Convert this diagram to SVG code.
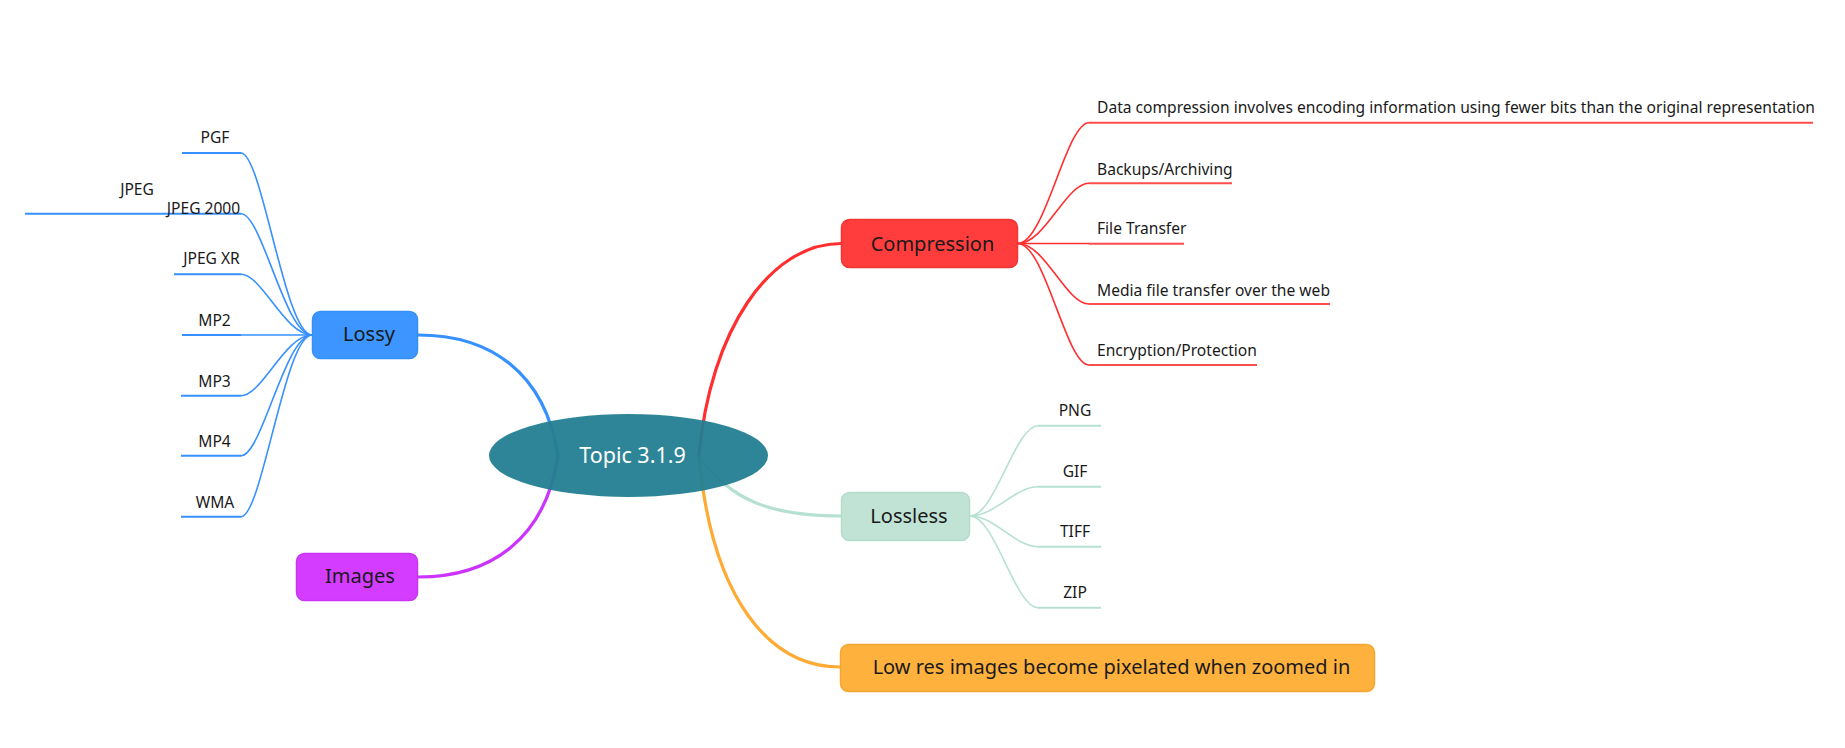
<svg xmlns="http://www.w3.org/2000/svg" width="1845" height="748" viewBox="0 0 1845 748">
<style>
text{font-family:"Noto Sans","Open Sans",sans-serif;fill:#1a1a1a}
.main{font-size:20px;text-anchor:middle}
.sub{font-size:15.6px}
.mid{text-anchor:middle}
.topic{font-size:21.5px;fill:#ffffff;text-anchor:middle}
.c{fill:none}
.blue{stroke:#3790ff}
.red{stroke:#ff2f2f}
.green{stroke:#b6e1d2}
.bw{stroke-width:3.2}
.cw{stroke-width:1.6}
.uw{stroke-width:2}
</style>
<rect width="1845" height="748" fill="#ffffff"/>
<g id="connectors">
  <path class="c blue bw" d="M558,456 C545,372 490,335 418,335"/>
  <path class="c bw" stroke="#cc33ff" d="M558,456 C545,540 490,577 418,577"/>
  <path class="c red bw" d="M699,456 C710,330 770,243.5 841,243.5"/>
  <path class="c green bw" d="M699,456 C730,500 770,516 841,516"/>
  <path class="c bw" stroke="#ffaa33" d="M699,456 C712,600 770,667 840,667"/>
  <!-- lossy children -->
  <path class="c blue cw" d="M312,335 C285,335 262,153 241,153"/>
  <path class="c blue cw" d="M312,335 C285,335 262,213.7 241,213.7"/>
  <path class="c blue cw" d="M312,335 C285,335 262,274.3 241,274.3"/>
  <path class="c blue cw" d="M312,335 L241,335"/>
  <path class="c blue cw" d="M312,335 C285,335 262,395.7 241,395.7"/>
  <path class="c blue cw" d="M312,335 C285,335 262,455.7 241,455.7"/>
  <path class="c blue cw" d="M312,335 C285,335 262,516.7 241,516.7"/>
  <g class="c blue uw">
    <line x1="182" y1="153" x2="241" y2="153"/>
    <line x1="25" y1="213.7" x2="241" y2="213.7"/>
    <line x1="174" y1="274.3" x2="241" y2="274.3"/>
    <line x1="182" y1="335" x2="241" y2="335"/>
    <line x1="181" y1="395.7" x2="241" y2="395.7"/>
    <line x1="181" y1="455.7" x2="241" y2="455.7"/>
    <line x1="181" y1="516.7" x2="241" y2="516.7"/>
  </g>
  <!-- compression children -->
  <path class="c red cw" d="M1018,243.5 C1045,243.5 1066,122.7 1089,122.7"/>
  <path class="c red cw" d="M1018,243.5 C1045,243.5 1066,183.3 1089,183.3"/>
  <path class="c red cw" d="M1018,243.5 L1089,243.5"/>
  <path class="c red cw" d="M1018,243.5 C1045,243.5 1066,304 1089,304"/>
  <path class="c red cw" d="M1018,243.5 C1045,243.5 1066,365 1089,365"/>
  <g class="c uw" stroke="#ff4d4d">
    <line x1="1089" y1="122.7" x2="1813" y2="122.7"/>
    <line x1="1089" y1="183.3" x2="1232" y2="183.3"/>
    <line x1="1089" y1="243.7" x2="1184" y2="243.7"/>
    <line x1="1089" y1="304" x2="1330" y2="304"/>
    <line x1="1089" y1="365" x2="1257" y2="365"/>
  </g>
  <!-- lossless children -->
  <path class="c green cw" d="M970,516 C995,516 1015,425.7 1038,425.7"/>
  <path class="c green cw" d="M970,516 C995,516 1015,486.7 1038,486.7"/>
  <path class="c green cw" d="M970,516 C995,516 1015,546.7 1038,546.7"/>
  <path class="c green cw" d="M970,516 C995,516 1015,607.7 1038,607.7"/>
  <g class="c green uw">
    <line x1="1038" y1="425.7" x2="1101" y2="425.7"/>
    <line x1="1038" y1="486.7" x2="1101" y2="486.7"/>
    <line x1="1038" y1="546.7" x2="1101" y2="546.7"/>
    <line x1="1038" y1="607.7" x2="1101" y2="607.7"/>
  </g>
</g>
<g id="topic">
  <ellipse cx="628.5" cy="455.5" rx="139.5" ry="41.5" fill="#237e91" fill-opacity="0.95"/>
  <text class="topic" x="632.5" y="463">Topic 3.1.9</text>
</g>
<g id="lossy">
  <rect x="312.5" y="311.5" width="105" height="47" rx="8" fill="#3d96ff" stroke="#3490f5" stroke-width="1.5"/>
  <text class="main" x="369" y="341">Lossy</text>
</g>
<g id="images">
  <rect x="296.5" y="553.5" width="121" height="47" rx="8" fill="#d43dff" stroke="#c934f2" stroke-width="1.5"/>
  <text class="main" x="360" y="583">Images</text>
</g>
<g id="compression">
  <rect x="841.5" y="219.5" width="176" height="48" rx="8" fill="#ff3d3d" stroke="#f03535" stroke-width="1.5"/>
  <text class="main" x="932.5" y="251">Compression</text>
</g>
<g id="lossless">
  <rect x="841.5" y="492.5" width="128" height="48" rx="8" fill="#c0e3d6" stroke="#b3dccc" stroke-width="1.5"/>
  <text class="main" x="909" y="523">Lossless</text>
</g>
<g id="lowres">
  <rect x="840.5" y="644.5" width="534" height="47" rx="8" fill="#ffb13d" stroke="#f5a733" stroke-width="1.5"/>
  <text class="main" x="1111.5" y="674">Low res images become pixelated when zoomed in</text>
</g>
<g id="lossy-children">
  <text class="sub mid" x="215" y="143">PGF</text>
  <text class="sub mid" x="137" y="195">JPEG</text>
  <text class="sub mid" x="203.5" y="214">JPEG 2000</text>
  <text class="sub mid" x="211.5" y="264">JPEG XR</text>
  <text class="sub mid" x="214.5" y="325.5">MP2</text>
  <text class="sub mid" x="214.5" y="386.5">MP3</text>
  <text class="sub mid" x="214.5" y="446.5">MP4</text>
  <text class="sub mid" x="215" y="507.5">WMA</text>
</g>
<g id="compression-children">
  <text class="sub" x="1097" y="113">Data compression involves encoding information using fewer bits than the original representation</text>
  <text class="sub" x="1097" y="175">Backups/Archiving</text>
  <text class="sub" x="1097" y="234">File Transfer</text>
  <text class="sub" x="1097" y="296">Media file transfer over the web</text>
  <text class="sub" x="1097" y="356">Encryption/Protection</text>
</g>
<g id="lossless-children">
  <text class="sub mid" x="1075" y="416">PNG</text>
  <text class="sub mid" x="1075" y="477">GIF</text>
  <text class="sub mid" x="1075" y="537">TIFF</text>
  <text class="sub mid" x="1075" y="598">ZIP</text>
</g>
</svg>
